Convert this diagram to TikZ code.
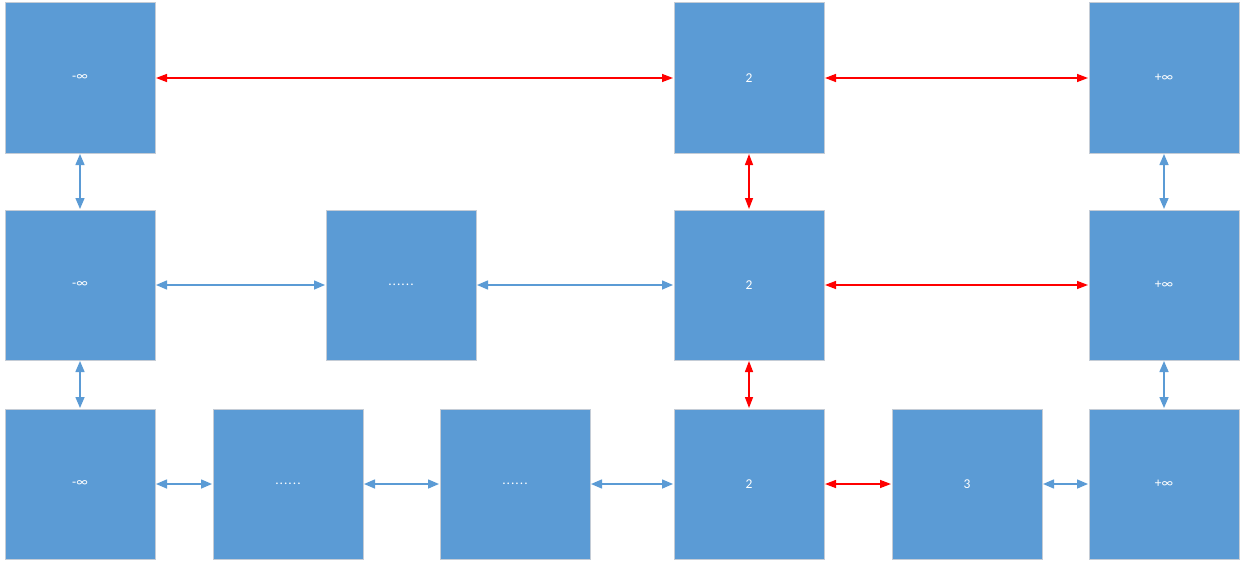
\documentclass[tikz,border=0pt]{standalone}
\usepackage{fontspec}
\setmainfont{Carlito}
\usetikzlibrary{arrows.meta}
\definecolor{boxblue}{HTML}{5B9BD5}
\definecolor{boxedge}{HTML}{C4CCD6}
\definecolor{linkred}{RGB}{255,0,0}
\tikzset{
  cell/.style={draw=boxedge, line width=1pt, fill=boxblue, minimum width=150pt, minimum height=150pt, inner sep=0pt, text=white, font=\fontsize{13.5}{15}\selectfont},
  bluelink/.style={color=boxblue, line width=1.5pt, {Triangle[length=11pt,width=9pt]}-{Triangle[length=11pt,width=9pt]}, shorten <=0.5pt, shorten >=0.5pt},
  redlink/.style={color=linkred, line width=1.4pt, {Triangle[length=11pt,width=8pt]}-{Triangle[length=11pt,width=8pt]}, shorten <=0.5pt, shorten >=0.5pt}
}
\newcommand{\mydots}{.\kern1pt.\kern1pt.\kern1pt.\kern1pt.\kern1pt.}
\begin{document}
\begin{tikzpicture}[x=1pt,y=-1pt]
\useasboundingbox (0,0) rectangle (1246,567);
% row 1
\node[cell] (a1) at (80,78) {-∞};
\node[cell] (c1) at (749,78) {2};
\node[cell] (d1) at (1164,78) {+∞};
% row 2
\node[cell] (a2) at (80,285) {-∞};
\node[cell] (b2) at (401,285) {\mydots};
\node[cell] (c2) at (749,285) {2};
\node[cell] (d2) at (1164,285) {+∞};
% row 3
\node[cell] (a3) at (80,484) {-∞};
\node[cell] (e3) at (288,484) {\mydots};
\node[cell] (f3) at (515,484) {\mydots};
\node[cell] (c3) at (749,484) {2};
\node[cell] (g3) at (967,484) {3};
\node[cell] (d3) at (1164,484) {+∞};
% red path
\draw[redlink] (a1) -- (c1);
\draw[redlink] (c1) -- (d1);
\draw[redlink] (c1) -- (c2);
\draw[redlink] (c2) -- (d2);
\draw[redlink] (c2) -- (c3);
\draw[redlink] (c3) -- (g3);
% blue links
\draw[bluelink] (a1) -- (a2);
\draw[bluelink] (a2) -- (a3);
\draw[bluelink] (d1) -- (d2);
\draw[bluelink] (d2) -- (d3);
\draw[bluelink] (a2) -- (b2);
\draw[bluelink] (b2) -- (c2);
\draw[bluelink] (a3) -- (e3);
\draw[bluelink] (e3) -- (f3);
\draw[bluelink] (f3) -- (c3);
\draw[bluelink] (g3) -- (d3);
\end{tikzpicture}
\end{document}
